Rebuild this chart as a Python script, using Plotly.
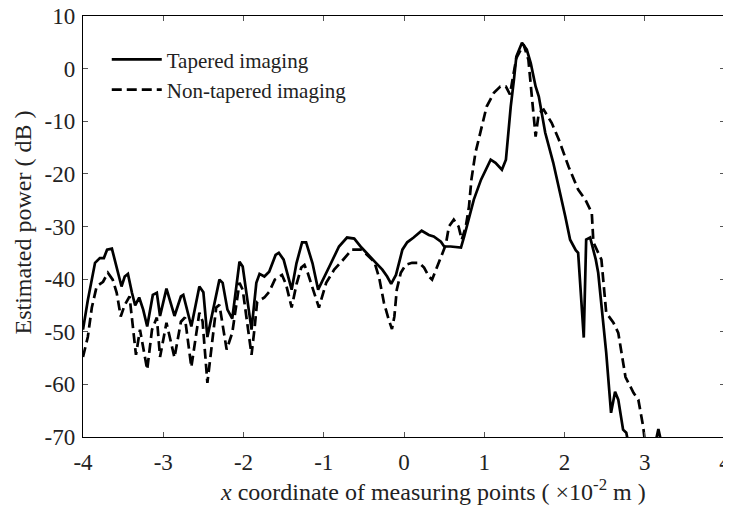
import plotly.graph_objects as go

# Tapered imaging (solid)
tapered_x = [-4.00, -3.94, -3.85, -3.79, -3.74, -3.70, -3.64, -3.58, -3.52, -3.48, -3.44, -3.39, -3.35, -3.30,
             -3.25, -3.20, -3.13, -3.08, -3.04, -2.96, -2.86, -2.78, -2.75, -2.65, -2.55, -2.50, -2.45, -2.30,
             -2.26, -2.20, -2.14, -2.05, -2.01, -1.90, -1.84, -1.80, -1.74, -1.68, -1.60, -1.56, -1.50, -1.40,
             -1.34, -1.27, -1.22, -1.14, -1.07, -0.93, -0.81, -0.71, -0.62, -0.53, -0.43, -0.35, -0.27, -0.21,
             -0.16, -0.10, -0.02, 0.04, 0.12, 0.22, 0.31, 0.37, 0.46, 0.50, 0.58, 0.71, 0.75, 0.81, 0.87, 0.96,
             1.08, 1.14, 1.22, 1.27, 1.30, 1.33, 1.37, 1.40, 1.47, 1.53, 1.58, 1.64, 1.68, 1.76, 1.86, 1.93,
             2.01, 2.07, 2.14, 2.17, 2.24, 2.27, 2.32, 2.39, 2.42, 2.52, 2.58, 2.63, 2.67, 2.73, 2.77, 2.80,
             3.00, 3.12, 3.17, 3.22, 3.30]
tapered_y = [-49.6, -44.0, -36.9, -36.0, -36.0, -34.4, -34.2, -37.6, -41.4, -39.5, -39.0, -42.6, -45.0, -43.5,
             -45.8, -49.0, -43.0, -42.6, -47.0, -41.8, -47.0, -43.3, -43.0, -49.0, -41.4, -42.5, -51.0, -40.1,
             -40.7, -45.8, -47.5, -36.7, -37.6, -49.6, -40.7, -39.0, -39.5, -38.6, -35.4, -35.0, -36.3, -42.0,
             -37.0, -33.0, -33.0, -37.0, -42.0, -37.6, -33.8, -32.1, -32.3, -34.0, -35.7, -36.9, -38.2, -39.5,
             -40.9, -39.2, -34.4, -33.0, -32.1, -30.8, -31.6, -31.9, -32.9, -33.8, -33.8, -34.0, -31.9, -28.1,
             -24.9, -21.1, -17.3, -17.9, -19.2, -17.3, -12.2, -7.2, -2.1, 2.3, 4.9, 3.6, 1.0, -3.4, -5.3,
             -12.2, -17.9, -22.4, -28.1, -32.5, -34.5, -35.0, -51.1, -32.5, -32.1, -36.3, -38.8, -54.0, -65.4,
             -61.4, -62.9, -68.6, -69.2, -71.5, -80.0, -72.0, -68.5, -72.0, -80.0]

# Non-tapered imaging (dashed)
nontapered_x = [-4.00, -3.94, -3.89, -3.83, -3.75, -3.69, -3.63, -3.58, -3.53, -3.48, -3.42, -3.34, -3.29, -3.20,
                -3.14, -3.08, -3.04, -2.96, -2.86, -2.78, -2.73, -2.65, -2.55, -2.51, -2.45, -2.34, -2.30, -2.21,
                -2.14, -2.05, -2.01, -1.90, -1.86, -1.83, -1.74, -1.68, -1.61, -1.52, -1.47, -1.40, -1.34, -1.28,
                -1.24, -1.20, -1.16, -1.06, -0.97, -0.87, -0.78, -0.71, -0.65, -0.53, -0.46, -0.37, -0.31, -0.25,
                -0.19, -0.15, -0.12, -0.09, -0.04, 0.02, 0.10, 0.19, 0.25, 0.31, 0.35, 0.41, 0.47, 0.52, 0.56,
                0.62, 0.68, 0.72, 0.77, 0.81, 0.84, 0.89, 0.96, 1.03, 1.12, 1.20, 1.27, 1.32, 1.40, 1.49, 1.55,
                1.59, 1.64, 1.68, 1.74, 1.84, 1.93, 2.05, 2.17, 2.26, 2.34, 2.36, 2.40, 2.46, 2.52, 2.61, 2.67,
                2.76, 2.86, 2.92, 2.98, 3.01]
nontapered_y = [-54.8, -51.0, -45.4, -41.4, -40.5, -38.8, -40.1, -42.6, -47.1, -44.9, -43.3, -54.4, -49.6, -57.2,
                -49.6, -47.3, -54.8, -48.3, -54.9, -48.1, -47.3, -56.7, -46.4, -48.0, -59.7, -45.4, -44.9, -53.4,
                -50.2, -40.7, -42.0, -54.4, -49.0, -44.3, -43.5, -42.4, -40.1, -39.2, -41.0, -45.4, -41.0, -37.8,
                -37.3, -38.8, -40.7, -45.4, -40.7, -38.2, -36.7, -35.4, -34.4, -34.4, -35.4, -36.7, -39.7, -44.5,
                -47.7, -49.5, -47.1, -42.0, -38.8, -37.3, -36.9, -36.9, -37.8, -39.5, -40.1, -37.8, -35.7, -33.5,
                -30.0, -28.7, -30.0, -32.5, -30.0, -26.2, -21.1, -16.0, -11.6, -7.2, -4.6, -3.4, -3.4, -4.9, 2.0,
                4.6, 1.7, -4.5, -12.9, -8.4, -7.8, -10.3, -13.5, -18.6, -23.0, -24.9, -27.4, -33.0, -34.4, -36.3,
                -46.4, -48.3, -50.2, -58.6, -61.6, -62.9, -68.0, -72.0]

x_ticks = [-4, -3, -2, -1, 0, 1, 2, 3, 4]
y_ticks = [10, 0, -10, -20, -30, -40, -50, -60, -70]

font = 'Liberation Serif'
fs = 23

fig = go.Figure()
fig.add_trace(go.Scatter(x=tapered_x, y=tapered_y, mode='lines', name='Tapered imaging',
                         line=dict(color='black', width=2.7)))
fig.add_trace(go.Scatter(x=nontapered_x, y=nontapered_y, mode='lines', name='Non-tapered imaging',
                         line=dict(color='black', width=2.7, dash='10px,5px')))

axis_common = dict(showline=True, linecolor='black', linewidth=1.3, mirror='ticks', ticks='inside',
                   ticklen=5, tickcolor='#555', showgrid=False, zeroline=False, automargin=False,
                   ticklabeloverflow='allow', tickfont=dict(family=font, size=fs, color='#222'))

# the page body adds an 8px margin, so the figure is sized 8px smaller
fig.update_layout(
    width=723, height=499,
    margin=dict(l=75, r=6, t=8, b=70),
    paper_bgcolor='white', plot_bgcolor='white',
    font=dict(family=font, size=fs, color='#222'),
    xaxis=dict(range=[-4, 4], tickvals=x_ticks, ticktext=[str(v) for v in x_ticks],
               ticklabelstandoff=4, **axis_common),
    yaxis=dict(range=[-70, 10], tickvals=y_ticks, ticktext=[str(v) for v in y_ticks],
               ticklabelstandoff=2, **axis_common),
    legend=dict(x=0.037, y=0.945, xanchor='left', yanchor='top', bgcolor='rgba(0,0,0,0)',
                font=dict(family=font, size=21), tracegroupgap=0, itemwidth=50),
    showlegend=True,
    annotations=[
        dict(text='<i>x</i> coordinate of measuring points ( ×10<sup>-2</sup> m )',
             xref='paper', yref='paper', x=0.5, y=0, xanchor='center', yanchor='middle',
             xshift=29, yshift=-53, showarrow=False, font=dict(family=font, size=24, color='#222')),
        dict(text='Estimated power ( dB )', textangle=-90,
             xref='paper', yref='paper', x=0, y=0.5, xanchor='center', yanchor='middle',
             xshift=-61, yshift=4, showarrow=False, font=dict(family=font, size=24, color='#222')),
    ],
)

fig.write_html("out.html")
